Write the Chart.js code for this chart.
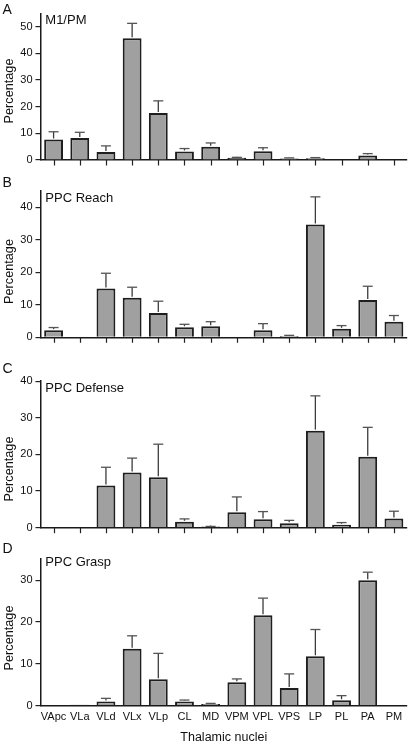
<!DOCTYPE html>
<html><head><meta charset="utf-8">
<script src="https://cdn.jsdelivr.net/npm/chart.js@4/dist/chart.umd.min.js"></script>
<style>
html,body{margin:0;padding:0;background:#fff;}
#wrap{position:relative;width:409px;height:745px;overflow:hidden;background:#fff;}
canvas{position:absolute;left:0;}
</style></head><body>
<div id="wrap">
<canvas id="cA" width="409" height="175" style="top:0px;width:409px;height:175px"></canvas>
<canvas id="cB" width="409" height="180" style="top:175px;width:409px;height:180px"></canvas>
<canvas id="cC" width="409" height="185" style="top:355px;width:409px;height:185px"></canvas>
<canvas id="cD" width="409" height="205" style="top:540px;width:409px;height:205px"></canvas>
</div>
<script>
// ---- data ----
const categories = ['VApc','VLa','VLd','VLx','VLp','CL','MD','VPM','VPL','VPS','LP','PL','PA','PM'];

const m1pmValues = [7.7, 8.3, 3.0, 45.7, 17.6, 3.2, 5.0, 0.8, 3.3, 0.6, 0.7, 0, 1.7, 0];
const m1pmErrors = [2.9, 2.1, 2.3, 5.6, 4.6, 1.1, 1.4, 0.2, 1.3, 0.2, 0.2, 0, 0.7, 0];

const reachValues = [2.2, 0, 15.0, 12.2, 7.5, 3.1, 3.4, 0, 2.15, 0.4, 34.7, 2.6, 11.5, 4.8];
const reachErrors = [0.8, 0, 4.7, 3.2, 3.6, 0.9, 1.4, 0, 2.05, 0.2, 8.5, 1.0, 4.2, 1.9];

const defenseValues = [0, 0, 11.5, 15.1, 13.8, 1.6, 0.3, 4.2, 2.3, 1.2, 26.5, 0.8, 19.4, 2.5];
const defenseErrors = [0, 0, 5.0, 3.9, 9.0, 0.8, 0.05, 4.2, 2.1, 0.8, 9.5, 0.6, 8.0, 2.0];

const graspValues = [0, 0.2, 1.0, 13.6, 6.3, 1.0, 0.4, 5.6, 21.6, 4.2, 11.8, 1.3, 30.0, 0];
const graspErrors = [0, 0, 0.75, 3.1, 6.2, 0.35, 0.15, 0.8, 4.1, 3.4, 6.4, 1.1, 1.9, 0];

const yTicksA = [0, 10, 20, 30, 40, 50];
const yTicksB = [0, 10, 20, 30, 40];
const yTicksC = [0, 10, 20, 30, 40];
const yTicksD = [0, 10, 20, 30];

const panelLetters = ['A', 'B', 'C', 'D'];
const panelTitles = ['M1/PM', 'PPC Reach', 'PPC Defense', 'PPC Grasp'];
const yAxisTitle = 'Percentage';
const xAxisTitle = 'Thalamic nuclei';

// ---- drawing ----
const FONT = '"Liberation Sans", Arial, Helvetica, sans-serif';
Chart.defaults.font.family = FONT;
Chart.defaults.color = '#222';

const errorBars = {
  id: 'errorBars',
  afterDatasetsDraw(chart) {
    const ctx = chart.ctx;
    const ds = chart.data.datasets[0];
    const meta = chart.getDatasetMeta(0);
    const ys = chart.scales.y;
    meta.data.forEach((bar, i) => {
      const e = ds.errors[i];
      if (!e) return;
      const yt = ys.getPixelForValue(ds.data[i] + e);
      ctx.save();
      ctx.strokeStyle = '#3c3c3c';
      ctx.lineWidth = 1.3;
      ctx.beginPath(); ctx.moveTo(bar.x, bar.y - 1); ctx.lineTo(bar.x, yt); ctx.stroke();
      ctx.strokeStyle = '#555';
      ctx.beginPath(); ctx.moveTo(bar.x - 5, yt); ctx.lineTo(bar.x + 5, yt); ctx.stroke();
      ctx.restore();
    });
  }
};

const panelText = {
  id: 'panelText',
  afterDraw(chart, args, o) {
    const ctx = chart.ctx;
    ctx.save();
    if (o.xTicks) {
      const xs = chart.scales.x;
      const b = chart.chartArea.bottom;
      ctx.strokeStyle = '#222';
      ctx.lineWidth = 1.2;
      for (let i = 0; i < categories.length; i++) {
        const x = Math.round(xs.getPixelForTick(i)) + 0.5;
        ctx.beginPath(); ctx.moveTo(x, b); ctx.lineTo(x, b + 5.5); ctx.stroke();
      }
    }
    ctx.fillStyle = '#111';
    ctx.textBaseline = 'alphabetic';
    ctx.textAlign = 'left';
    ctx.font = '14px ' + FONT;
    ctx.fillText(o.letter, 2.5, o.letterBase);
    ctx.font = '13px ' + FONT;
    ctx.fillText(o.title, 45.3, o.titleBase);
    ctx.translate(9, o.yTitleCenter);
    ctx.rotate(-Math.PI / 2);
    ctx.textAlign = 'center';
    ctx.textBaseline = 'middle';
    ctx.font = '12.7px ' + FONT;
    ctx.fillText(yAxisTitle, 0, 0);
    ctx.restore();
  }
};

function makePanel(p) {
  const last = p.last;
  const xh = p.height - (p.areaBottom - p.top);
  new Chart(document.getElementById(p.id), {
    type: 'bar',
    data: {
      labels: categories,
      datasets: [{
        data: p.values,
        errors: p.errors,
        backgroundColor: '#a0a0a0',
        borderColor: '#1e1e1e',
        borderWidth: 2,
        borderSkipped: 'start',
        barPercentage: 0.72,
        categoryPercentage: 1.0
      }]
    },
    options: {
      responsive: false,
      animation: false,
      devicePixelRatio: 1,
      layout: { padding: { top: p.areaTop - p.top, left: 0, right: 2, bottom: 0 } },
      plugins: {
        legend: { display: false },
        tooltip: { enabled: false },
        panelText: {
          letter: p.letter, title: p.title,
          letterBase: p.letterBase - p.top,
          titleBase: p.titleBase - p.top,
          yTitleCenter: p.yTitleCenter - p.top,
          xTicks: !last
        }
      },
      scales: {
        x: {
          offset: true,
          grid: { display: true, drawOnChartArea: false, drawTicks: false, offset: false, color: '#222', lineWidth: 1.2 },
          border: { display: true, color: '#1a1a1a', width: 1.5 },
          ticks: { display: last, autoSkip: false, maxRotation: 0, padding: 4.5, font: { size: 11 }, color: '#111' },
          title: { display: last, text: xAxisTitle, font: { size: 12.5 }, color: '#111', padding: { top: 0, bottom: 0 } },
          afterFit: (axis) => { axis.height = xh; }
        },
        y: {
          min: 0, max: p.yMax,
          grid: { display: true, drawOnChartArea: false, drawTicks: true, tickLength: 5, color: '#222', lineWidth: 1.2 },
          border: { display: true, color: '#1a1a1a', width: 1.5 },
          ticks: { padding: 3, font: { size: 11 }, color: '#111' },
          afterBuildTicks: (axis) => { axis.ticks = p.yTicks.map(v => ({ value: v })); },
          afterFit: (axis) => { axis.width = 40.5; }
        }
      }
    },
    plugins: [errorBars, panelText]
  });
}

makePanel({ id: 'cA', top: 0, height: 175, areaTop: 13.5, areaBottom: 160, yMax: 55, yTicks: yTicksA,
  values: m1pmValues, errors: m1pmErrors, letter: panelLetters[0], title: panelTitles[0],
  letterBase: 13.5, titleBase: 24.3, yTitleCenter: 91, last: false });
makePanel({ id: 'cB', top: 175, height: 180, areaTop: 191, areaBottom: 337.3, yMax: 45, yTicks: yTicksB,
  values: reachValues, errors: reachErrors, letter: panelLetters[1], title: panelTitles[1],
  letterBase: 187, titleBase: 201.7, yTitleCenter: 271.5, last: false });
makePanel({ id: 'cC', top: 355, height: 185, areaTop: 381.2, areaBottom: 527.7, yMax: 40, yTicks: yTicksC,
  values: defenseValues, errors: defenseErrors, letter: panelLetters[2], title: panelTitles[2],
  letterBase: 373, titleBase: 392.4, yTitleCenter: 469, last: false });
makePanel({ id: 'cD', top: 540, height: 205, areaTop: 559.2, areaBottom: 705.7, yMax: 35, yTicks: yTicksD,
  values: graspValues, errors: graspErrors, letter: panelLetters[3], title: panelTitles[3],
  letterBase: 553, titleBase: 566.3, yTitleCenter: 638, last: true });
</script>
</body></html>
